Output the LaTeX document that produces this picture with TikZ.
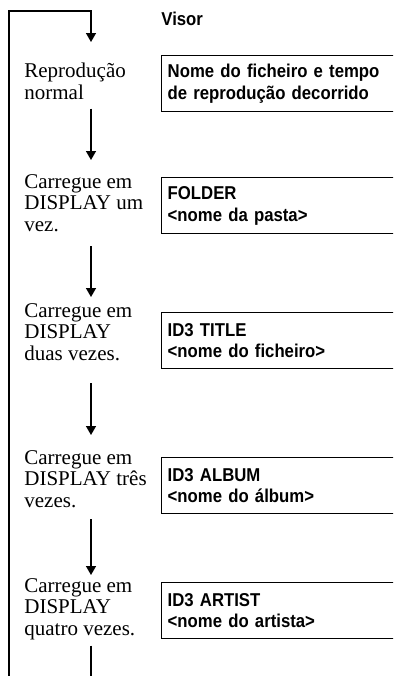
\documentclass[tikz,border=0pt]{standalone}
\usepackage{fontspec}
\setmainfont{Liberation Serif}
\newfontfamily\dispfont[FakeStretch=0.9]{Liberation Sans}
\usepackage{tikz}
\usetikzlibrary{arrows.meta, calc}

\tikzset{
  flow/.style={line width=0.7pt, -{Triangle[width=5pt,length=4.5pt]}},
  howto/.style={anchor=north west, inner sep=0pt, align=left,
    font=\fontsize{10.5}{10.8}\selectfont},
  lcd/.style={draw, line width=0.7pt, anchor=north west, minimum height=28pt,
    inner xsep=3pt, inner ysep=0pt, text width=118pt, align=left,
    font=\dispfont\bfseries\fontsize{9.3}{10.8}\selectfont},
}

\begin{document}
\begin{tikzpicture}[x=0.5pt, y=-0.5pt]
  \useasboundingbox (0,0) rectangle (393,676);
  \clip (0,0) rectangle (393,676);
  % steps on the left
  \node[howto] (s0) at (24,63)  {Reprodução\\normal};
  \node[howto] (s1) at (24,174) {Carregue em\\DISPLAY um\\vez.};
  \node[howto] (s2) at (24,303) {Carregue em\\DISPLAY\\duas vezes.};
  \node[howto] (s3) at (24,450) {Carregue em\\DISPLAY três\\vezes.};
  \node[howto] (s4) at (24,578) {Carregue em\\DISPLAY\\quatro vezes.};
  % what the display shows
  \node[font=\dispfont\bfseries\fontsize{9.3}{10.8}\selectfont, anchor=base west, inner sep=0pt] (vis) at (161,25) {Visor};
  \node[lcd] (d0) at (161,55)  {Nome do ficheiro e tempo\\de reprodução decorrido};
  \node[lcd] (d1) at (161,177) {FOLDER\\<nome da pasta>};
  \node[lcd] (d2) at (161,312) {ID3 TITLE\\<nome do ficheiro>};
  \node[lcd] (d3) at (161,457) {ID3 ALBUM\\<nome do álbum>};
  \node[lcd] (d4) at (161,582) {ID3 ARTIST\\<nome do artista>};
  % arrows
  \coordinate (ax) at (91,0);
  \coordinate (loopbot) at (9,700);
  \coordinate (looptop) at (9,11);
  \draw[flow, shorten <=4.2pt, shorten >=7pt] (s0.south -| ax) -- (s1.north -| ax);
  \draw[flow, shorten <=6.9pt, shorten >=3pt] (s1.south -| ax) -- (s2.north -| ax);
  \draw[flow, shorten <=10.9pt, shorten >=7.5pt] (s2.south -| ax) -- (s3.north -| ax);
  \draw[flow, shorten <=5.4pt, shorten >=1.5pt] (s3.south -| ax) -- (s4.north -| ax);
  \draw[flow, shorten <=2.6pt, shorten >=10.5pt] (s4.south -| ax) |- (loopbot) -- (looptop) -| (s0.north -| ax);
\end{tikzpicture}
\end{document}
